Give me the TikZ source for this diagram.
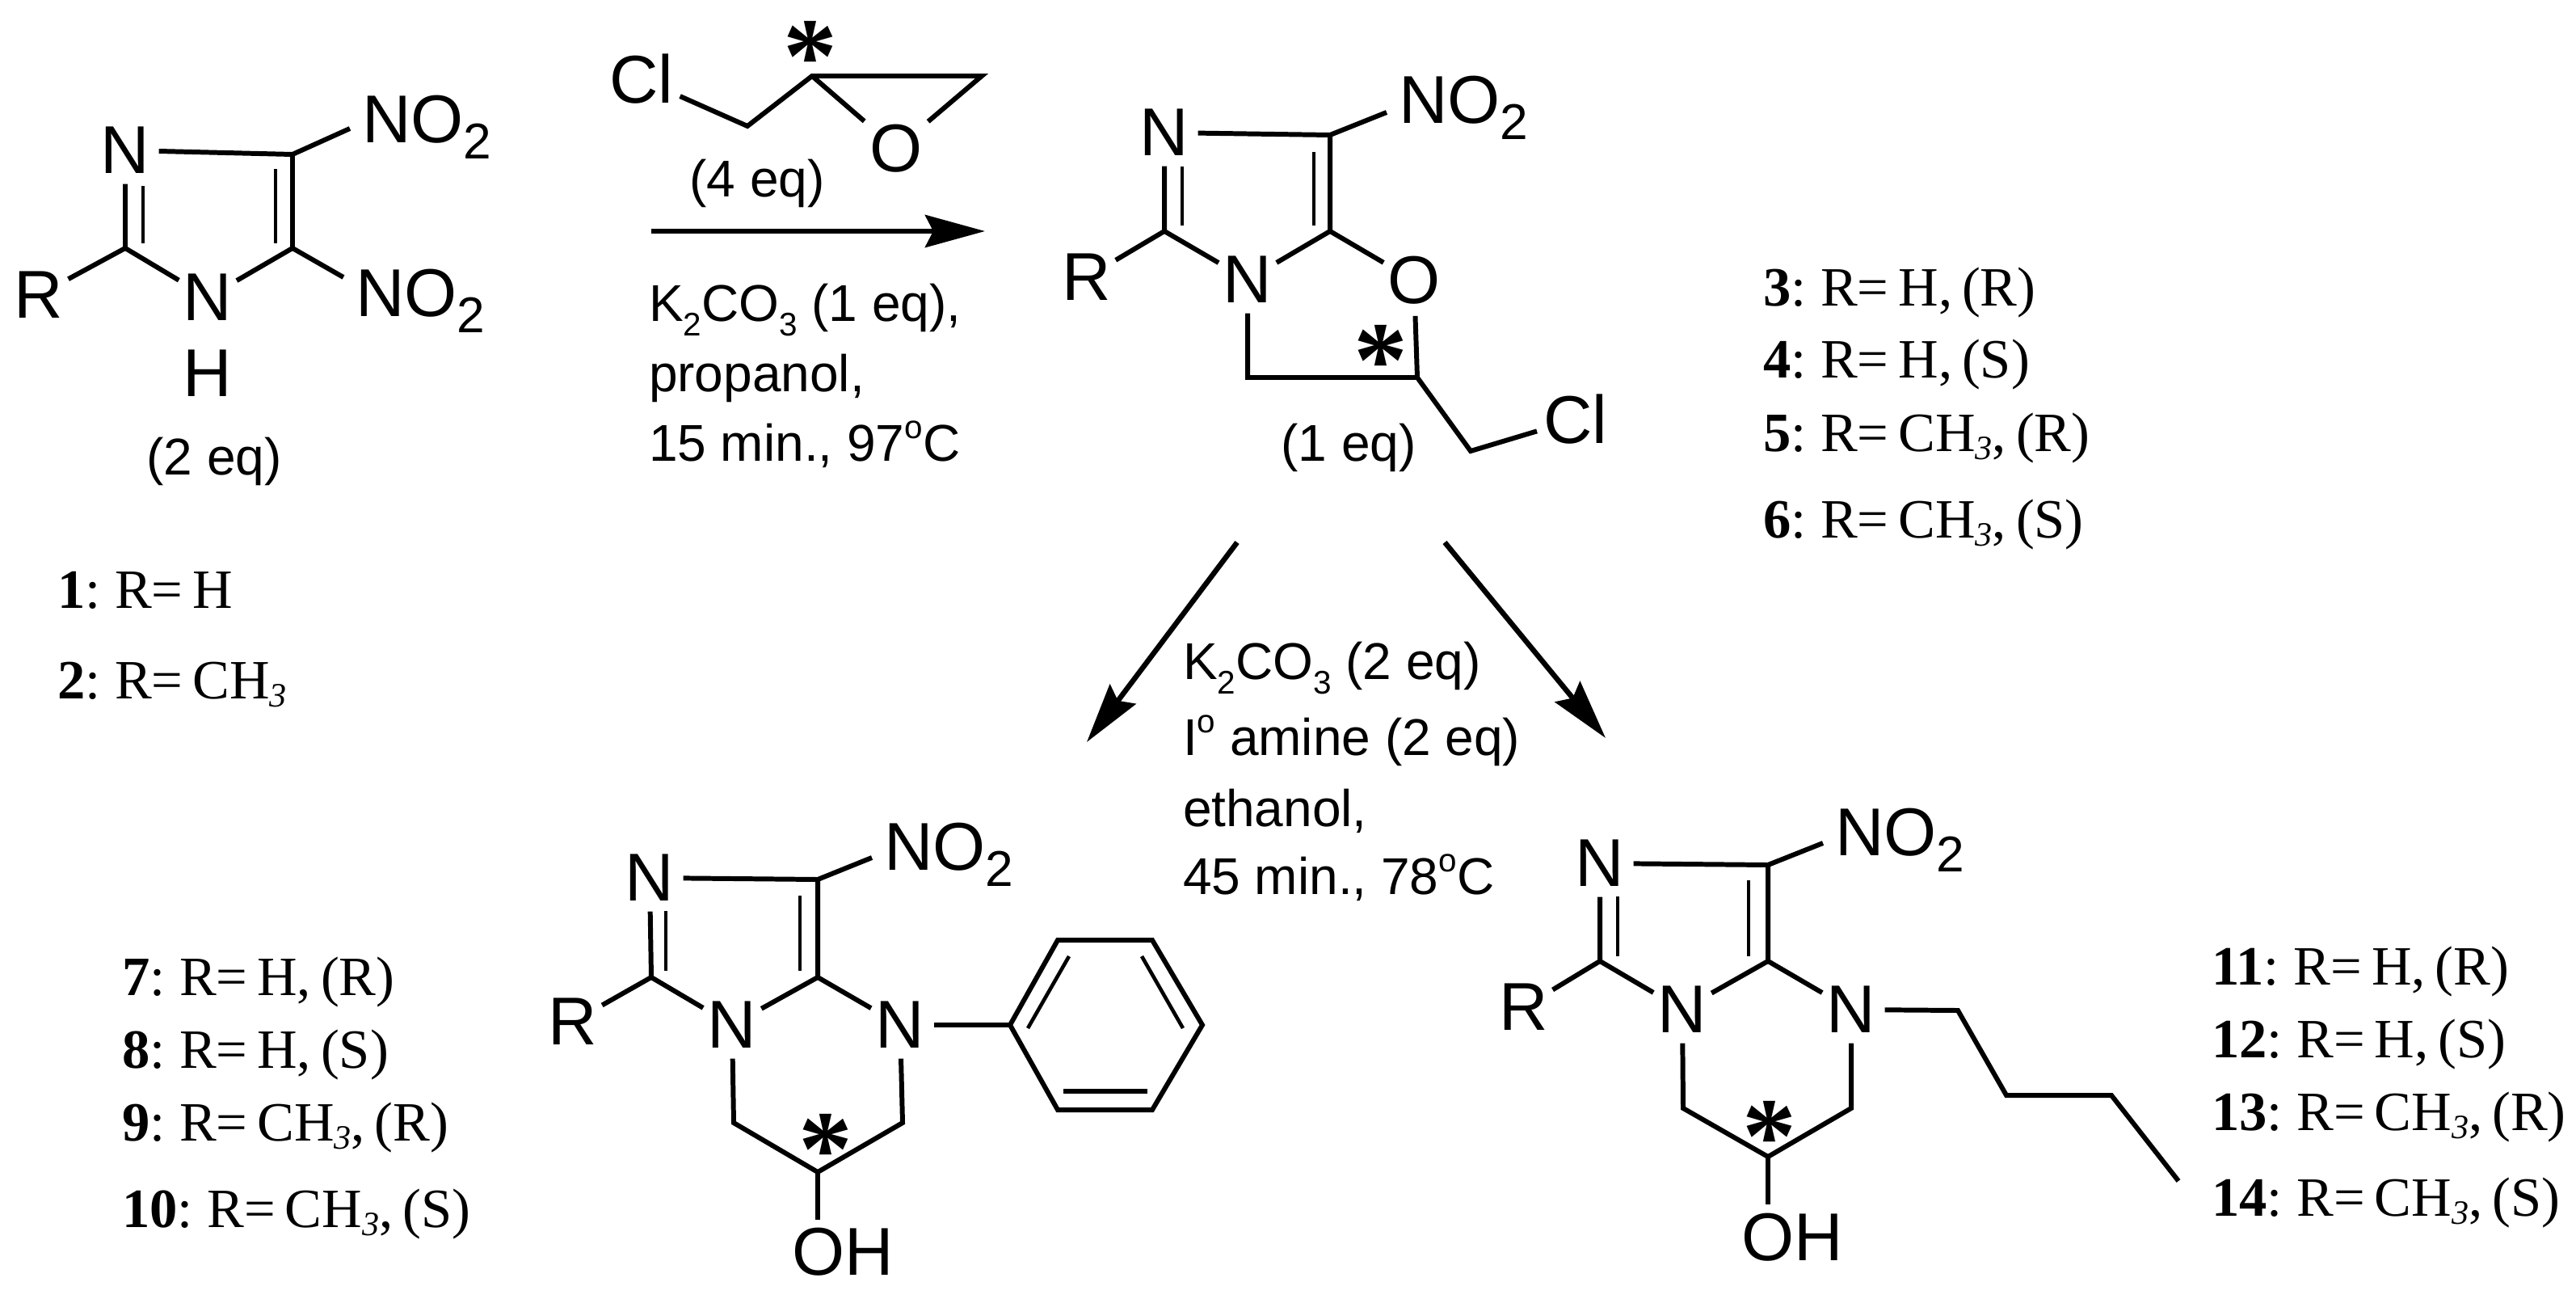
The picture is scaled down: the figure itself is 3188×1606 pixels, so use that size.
\documentclass[tikz,border=0pt]{standalone}
\usepackage{fontspec}
\setmainfont{Liberation Sans}
\newfontfamily\legendfamily[WordSpace=0.7]{Liberation Serif}
\usetikzlibrary{arrows.meta}
\newcommand{\nitro}{NO\raisebox{-0.2cm}{\fontsize{17.7}{20}\selectfont 2}}
\newcommand{\rsub}[1]{\raisebox{-0.18cm}{\fontsize{11.5}{13}\selectfont #1}}
\newcommand{\rdeg}{\raisebox{0.27cm}{\fontsize{11.5}{13}\selectfont o}}
\newcommand{\lsub}[1]{\raisebox{-0.1cm}{\fontsize{12}{13}\selectfont\itshape #1}}
\tikzset{
  atom/.style={circle,inner sep=0pt,outer sep=0pt,minimum size=0.8cm,font=\fontsize{23.8}{26}\selectfont},
  bigatom/.style={atom,minimum size=1.04cm},
  plainatom/.style={inner sep=0pt,outer sep=0pt,font=\fontsize{23.8}{26}\selectfont},
  nitrolabel/.style={anchor=base west,inner sep=0pt,outer sep=0pt,font=\fontsize{23.8}{26}\selectfont},
  reagent/.style={anchor=base west,inner sep=0pt,outer sep=0pt,font=\fontsize{18.2}{20}\selectfont},
  eqlabel/.style={inner sep=0pt,outer sep=0pt,font=\fontsize{18.2}{20}\selectfont},
  legend/.style={anchor=base west,inner sep=0pt,outer sep=0pt,font=\legendfamily\fontsize{19.5}{22}\selectfont},
  stereo/.style={inner sep=0pt,outer sep=0pt,font=\legendfamily\bfseries\fontsize{38}{40}\selectfont},
  bond/.style={line width=1.7pt,line join=miter},
  innerbond/.style={line width=1.3pt},
  rxnarrow/.style={line width=1.85pt,-{Stealth[length=0.74cm,width=0.4cm,inset=0.1cm]}}
}
\begin{document}
\begin{tikzpicture}[x=0.01cm,y=-0.01cm]
\fill[white] (0,0) rectangle (3188,1606);
\useasboundingbox (0,0) rectangle (3188,1606);

% --- compound 1/2 ---
\coordinate (aC2) at (155,307);
\coordinate (aC4) at (362,191);
\coordinate (aC5) at (362,307);
\coordinate (aI1) at (177,230);
\coordinate (aI2) at (177,301);
\coordinate (aI3) at (341,209);
\coordinate (aI4) at (341,301);
\node[atom] (aN3) at (155,186) {N};
\node[atom] (aN1) at (257,368) {N};
\node[plainatom] (aH) at (257,462) {H};
\node[atom] (aR) at (48,365) {R};
\node[nitrolabel] (aNa) at (448,176) {\nitro};
\node[nitrolabel] (aNb) at (440,391) {\nitro};
\node[eqlabel] (aEq) at (265,571) {(2 eq)};
\draw[bond] (aN3) -- (aC4) -- (aC5) -- (aN1) -- (aC2) -- (aN3);
\draw[bond] (aC2) -- (aR);
\draw[bond] (aC4) -- ([shift={(-15,-17)}]aNa.base west);
\draw[bond] (aC5) -- ([shift={(-15,-48)}]aNb.base west);
\draw[innerbond] (aI1) -- (aI2);
\draw[innerbond] (aI3) -- (aI4);

% --- epichlorohydrin ---
\node[bigatom] (eCl) at (794,98) {Cl};
\node[bigatom] (eO) at (1109,184) {O};
\coordinate (eC1) at (925,156);
\coordinate (eC2) at (1005,94);
\coordinate (eC3) at (1215,94);
\node[stereo] (eStar) at (1003,70) {*};
\node[eqlabel] (eEq) at (937,227) {(4 eq)};
\draw[bond] (eCl) -- (eC1) -- (eC2) -- (eC3) -- (eO);
\draw[bond] (eC2) -- (eO);

% --- first reaction arrow and conditions ---
\coordinate (r1a) at (806,286);
\coordinate (r1b) at (1219,286);
\draw[rxnarrow] (r1a) -- (r1b);
\node[reagent] (rg1) at (803,397) {K\rsub{2}CO\rsub{3} (1 eq),};
\node[reagent] (rg2) at (803,484) {propanol,};
\node[reagent] (rg3) at (803,570) {15 min., 97\rdeg C};

% --- compound 3-6 ---
\coordinate (bC2) at (1441,286);
\coordinate (bC4) at (1646,167);
\coordinate (bC5) at (1646,286);
\coordinate (bCa) at (1544,467);
\coordinate (bCb) at (1754,467);
\coordinate (bCc) at (1820,558);
\coordinate (bI1) at (1463,206);
\coordinate (bI2) at (1463,279);
\coordinate (bI3) at (1626,188);
\coordinate (bI4) at (1626,279);
\node[atom] (bN3) at (1441,164) {N};
\node[atom] (bN1) at (1544,346) {N};
\node[atom] (bO) at (1750,347) {O};
\node[atom] (bR) at (1345,343) {R};
\node[nitrolabel] (bNa) at (1731,152) {\nitro};
\node[bigatom,minimum size=0.94cm] (bCl) at (1950,519) {Cl};
\node[stereo] (bStar) at (1709,446) {*};
\node[eqlabel] (bEq) at (1669,554) {(1 eq)};
\draw[bond] (bN3) -- (bC4) -- (bC5) -- (bN1) -- (bC2) -- (bN3);
\draw[bond] (bC2) -- (bR);
\draw[bond] (bC4) -- ([shift={(-15,-13)}]bNa.base west);
\draw[bond] (bC5) -- (bO);
\draw[bond] (bN1) -- (bCa) -- (bCb) -- (bO);
\draw[bond] (bCb) -- (bCc) -- (bCl);
\draw[innerbond] (bI1) -- (bI2);
\draw[innerbond] (bI3) -- (bI4);

% --- second reaction arrows and conditions ---
\coordinate (r2s) at (1531,671);
\coordinate (r2t) at (1345,918);
\coordinate (r3s) at (1788,671);
\coordinate (r3t) at (1987,913);
\draw[rxnarrow] (r2s) -- (r2t);
\draw[rxnarrow] (r3s) -- (r3t);
\node[reagent] (rg4) at (1464,840) {K\rsub{2}CO\rsub{3} (2 eq)};
\node[reagent] (rg5) at (1464,934) {I\rdeg{} amine (2 eq)};
\node[reagent] (rg6) at (1464,1022) {ethanol,};
\node[reagent] (rg7) at (1464,1106) {45 min., 78\rdeg C};

% --- compound 7-10 ---
\coordinate (cC2) at (806,1209);
\coordinate (cC4) at (1012,1088);
\coordinate (cC5) at (1012,1209);
\coordinate (cCa) at (908,1389);
\coordinate (cCb) at (1012,1450);
\coordinate (cCc) at (1117,1389);
\coordinate (cOb) at (1012,1509);
\coordinate (cI1) at (824,1127);
\coordinate (cI2) at (824,1201);
\coordinate (cI3) at (990,1108);
\coordinate (cI4) at (990,1201);
\coordinate (ph1) at (1250,1268);
\coordinate (ph2) at (1309,1163);
\coordinate (ph3) at (1426,1163);
\coordinate (ph4) at (1488,1268);
\coordinate (ph5) at (1426,1373);
\coordinate (ph6) at (1309,1373);
\coordinate (pi1) at (1272,1272);
\coordinate (pi2) at (1323,1183);
\coordinate (pi3) at (1413,1183);
\coordinate (pi4) at (1464,1272);
\coordinate (pi5) at (1316,1350);
\coordinate (pi6) at (1420,1350);
\node[atom] (cN3) at (804,1086) {N};
\node[atom] (cN1) at (906,1268) {N};
\node[atom] (cN2) at (1114,1268) {N};
\node[atom] (cR) at (709,1264) {R};
\node[nitrolabel] (cNa) at (1094,1076) {\nitro};
\node[plainatom] (cOH) at (1043,1549) {OH};
\node[stereo] (cStar) at (1022,1422) {*};
\draw[bond] (cN3) -- (cC4) -- (cC5) -- (cN1) -- (cC2) -- (cN3);
\draw[bond] (cC2) -- (cR);
\draw[bond] (cC4) -- ([shift={(-15,-15)}]cNa.base west);
\draw[bond] (cC5) -- (cN2);
\draw[bond] (cN1) -- (cCa) -- (cCb) -- (cCc) -- (cN2);
\draw[bond] (cCb) -- (cOb);
\draw[bond] (cN2) -- (ph1);
\draw[bond] (ph1) -- (ph2) -- (ph3) -- (ph4) -- (ph5) -- (ph6) -- cycle;
\draw[innerbond] (pi1) -- (pi2);
\draw[innerbond] (pi3) -- (pi4);
\draw[bond] (pi5) -- (pi6);
\draw[innerbond] (cI1) -- (cI2);
\draw[innerbond] (cI3) -- (cI4);

% --- compound 11-14 ---
\coordinate (dC2) at (1980,1189);
\coordinate (dC4) at (2188,1070);
\coordinate (dC5) at (2188,1189);
\coordinate (dCa) at (2083,1371);
\coordinate (dCb) at (2188,1431);
\coordinate (dCc) at (2291,1371);
\coordinate (dOb) at (2188,1490);
\coordinate (dI1) at (2002,1109);
\coordinate (dI2) at (2002,1183);
\coordinate (dI3) at (2164,1089);
\coordinate (dI4) at (2164,1183);
\coordinate (ch1) at (2423,1250);
\coordinate (ch2) at (2483,1355);
\coordinate (ch3) at (2613,1355);
\coordinate (ch4) at (2696,1461);
\node[atom] (dN3) at (1980,1068) {N};
\node[atom] (dN1) at (2082,1249) {N};
\node[atom] (dN2) at (2291,1249) {N};
\node[atom] (dR) at (1886,1246) {R};
\node[nitrolabel] (dNa) at (2271,1058) {\nitro};
\node[plainatom] (dOH) at (2218,1531) {OH};
\node[stereo] (dStar) at (2190,1406) {*};
\draw[bond] (dN3) -- (dC4) -- (dC5) -- (dN1) -- (dC2) -- (dN3);
\draw[bond] (dC2) -- (dR);
\draw[bond] (dC4) -- ([shift={(-15,-15)}]dNa.base west);
\draw[bond] (dC5) -- (dN2);
\draw[bond] (dN1) -- (dCa) -- (dCb) -- (dCc) -- (dN2);
\draw[bond] (dCb) -- (dOb);
\draw[bond] (dN2) -- (ch1) -- (ch2) -- (ch3) -- (ch4);
\draw[innerbond] (dI1) -- (dI2);
\draw[innerbond] (dI3) -- (dI4);

% --- legends ---
\node[legend] (l1) at (71,752) {\textbf{1}: R= H};
\node[legend] (l2) at (71,864) {\textbf{2}: R= CH\lsub{3}};
\node[legend] (l3) at (2182,378) {\textbf{3}: R= H, (R)};
\node[legend] (l4) at (2182,467) {\textbf{4}: R= H, (S)};
\node[legend] (l5) at (2182,558) {\textbf{5}: R= CH\lsub{3}, (R)};
\node[legend] (l6) at (2182,665) {\textbf{6}: R= CH\lsub{3}, (S)};
\node[legend] (l7) at (151,1231) {\textbf{7}: R= H, (R)};
\node[legend] (l8) at (151,1321) {\textbf{8}: R= H, (S)};
\node[legend] (l9) at (151,1411) {\textbf{9}: R= CH\lsub{3}, (R)};
\node[legend] (l10) at (151,1518) {\textbf{10}: R= CH\lsub{3}, (S)};
\node[legend] (l11) at (2737,1218) {\textbf{11}: R= H, (R)};
\node[legend] (l12) at (2737,1308) {\textbf{12}: R= H, (S)};
\node[legend] (l13) at (2737,1398) {\textbf{13}: R= CH\lsub{3}, (R)};
\node[legend] (l14) at (2737,1504) {\textbf{14}: R= CH\lsub{3}, (S)};
\end{tikzpicture}
\end{document}
